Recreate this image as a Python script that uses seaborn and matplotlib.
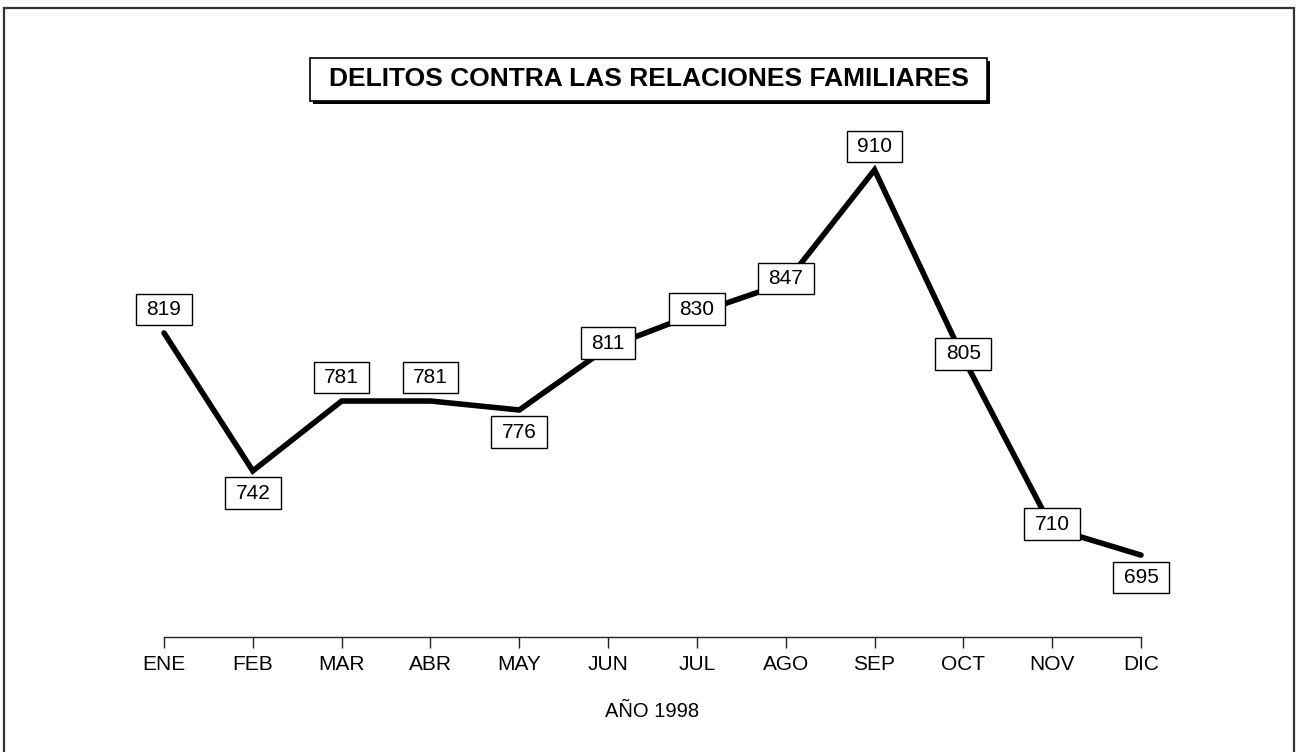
import numpy as np
import pandas as pd
import matplotlib
matplotlib.use("Agg")
import matplotlib.pyplot as plt
from matplotlib.patches import Rectangle
from matplotlib.path import Path
import seaborn as sns

# datos del gráfico
meses = ['ENE', 'FEB', 'MAR', 'ABR', 'MAY', 'JUN', 'JUL', 'AGO', 'SEP', 'OCT', 'NOV', 'DIC']
delitos = [819, 742, 781, 781, 776, 811, 830, 847, 910, 805, 710, 695]
titulo = 'DELITOS CONTRA LAS RELACIONES FAMILIARES'
eje_x = 'AÑO 1998'

# posición de cada etiqueta respecto al punto (arriba / abajo / centro)
lado_etiqueta = ['arriba', 'abajo', 'arriba', 'arriba', 'abajo', 'centro',
                 'centro', 'centro', 'arriba', 'centro', 'centro', 'abajo']
desplaz = {'arriba': 17, 'abajo': -16, 'centro': 3}   # en puntos

sns.set_theme(style='white')
plt.rcParams['font.family'] = ['Liberation Sans', 'DejaVu Sans']
plt.rcParams['text.color'] = 'black'
plt.rcParams['xtick.color'] = 'black'
plt.rcParams['axes.labelcolor'] = 'black'

W, H = 1297, 752
fig = plt.figure(figsize=(W / 100, H / 100), dpi=100)


def fx(px):
    return px / W


def fy(py):
    # py medido desde arriba
    return 1 - py / H


# eje principal: x de ENE (164 px) a DIC (1141 px), línea base en 637 px
ax = fig.add_axes([fx(164), fy(637), fx(1141 - 164), (637 - 100) / H])

df = pd.DataFrame({'mes': meses, 'delitos': delitos})
sns.lineplot(data=df, x='mes', y='delitos', sort=False, color='black',
             linewidth=4.0, ax=ax)
for ln in ax.lines:
    ln.set_solid_joinstyle('miter')
    ln.set_solid_capstyle('round')
    ln.set_clip_on(False)

ax.set_xlim(0, len(meses) - 1)
ax.set_ylim(649.3, 949.0)


def caja_ancha(x0, y0, width, height, mutation_size):
    padx = 0.5 * mutation_size
    pady = 0.3 * mutation_size
    x0, y0 = x0 - padx, y0 - pady
    x1, y1 = x0 + width + 2 * padx, y0 + height + 2 * pady
    return Path([(x0, y0), (x1, y0), (x1, y1), (x0, y1), (x0, y0)], closed=True)


for i, (v, lado) in enumerate(zip(delitos, lado_etiqueta)):
    ax.annotate(str(v), xy=(i, v), xytext=(0, desplaz[lado]),
                textcoords='offset points', ha='center', va='center',
                fontsize=15, color='black', zorder=5, annotation_clip=False,
                bbox=dict(boxstyle=caja_ancha, fc='white', ec='black', lw=1.0))

for s in ['left', 'top', 'right']:
    ax.spines[s].set_visible(False)
ax.spines['bottom'].set_color('#222222')
ax.spines['bottom'].set_linewidth(1.0)
ax.set_yticks([])
ax.tick_params(axis='x', direction='out', length=8, width=1.0, color='#222222',
               pad=5, labelsize=15, labelcolor='black', bottom=True)
ax.set_xlabel(eje_x, fontsize=14.5, labelpad=20, color='black')
ax.set_ylabel('')
ax.patch.set_alpha(0)

# título con sombra
tx0, ty0, tx1, ty1 = 310, 58, 987, 101
fig.add_artist(Rectangle((fx(tx0 + 3), fy(ty1 + 3)), fx(tx1 - tx0), (ty1 - ty0) / H,
                         transform=fig.transFigure, fc='black', ec='black', lw=0))
fig.add_artist(Rectangle((fx(tx0), fy(ty1)), fx(tx1 - tx0), (ty1 - ty0) / H,
                         transform=fig.transFigure, fc='white', ec='black', lw=1.2))
fig.text(fx((tx0 + tx1) / 2), fy((ty0 + ty1) / 2), titulo, ha='center', va='center',
         fontsize=19, fontweight='bold', color='black')

# marco exterior
fig.add_artist(Rectangle((fx(4), fy(H + 10)), fx(1294 - 4), (H + 10 - 8) / H,
                         transform=fig.transFigure, fill=False, ec='#333333', lw=1.6))

fig.savefig('out.png', dpi=100)
